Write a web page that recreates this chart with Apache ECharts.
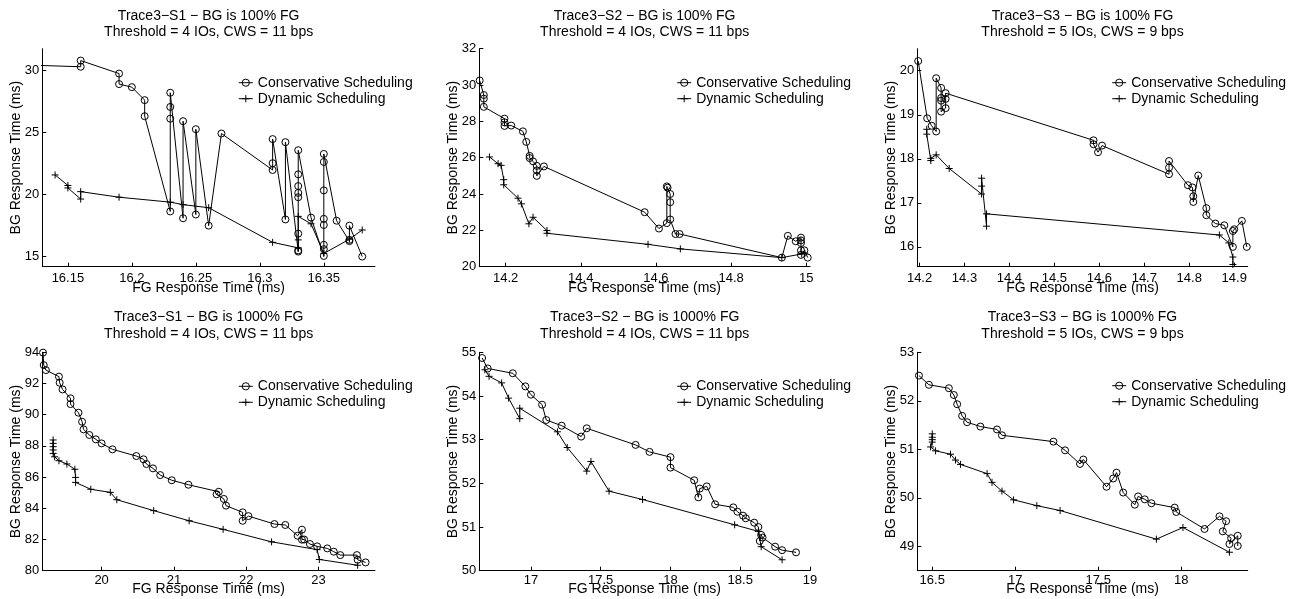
<!DOCTYPE html>
<html><head><meta charset="utf-8">
<script src="https://cdn.jsdelivr.net/npm/echarts@6/dist/echarts.min.js"></script>
<style>html,body{margin:0;padding:0;background:#fff}#c{width:1292px;height:599px}</style>
</head><body><div id="c"></div>
<script>
// ---------------- DATA ----------------
const seriesNames = ['Conservative Scheduling', 'Dynamic Scheduling'];
const titles = [
  'Trace3\u2212S1 \u2212 BG is 100% FG\nThreshold = 4 IOs, CWS = 11 bps',
  'Trace3\u2212S2 \u2212 BG is 100% FG\nThreshold = 4 IOs, CWS = 11 bps',
  'Trace3\u2212S3 \u2212 BG is 100% FG\nThreshold = 5 IOs, CWS = 9 bps',
  'Trace3\u2212S1 \u2212 BG is 1000% FG\nThreshold = 4 IOs, CWS = 11 bps',
  'Trace3\u2212S2 \u2212 BG is 1000% FG\nThreshold = 4 IOs, CWS = 11 bps',
  'Trace3\u2212S3 \u2212 BG is 1000% FG\nThreshold = 5 IOs, CWS = 9 bps'
];
const xName = 'FG Response Time (ms)';
const yName = 'BG Response Time (ms)';

// axis ranges [min, max]
const xRange1 = [16.13, 16.39], yRange1 = [14.13, 31.76];
const xRange2 = [14.13, 15.01], yRange2 = [20, 32];
const xRange3 = [14.195, 14.93], yRange3 = [15.55, 20.5];
const xRange4 = [19.18, 23.78], yRange4 = [80, 94];
const xRange5 = [16.63, 19.0], yRange5 = [50, 55];
const xRange6 = [16.41, 18.40], yRange6 = [48.5, 53];

// tick values
const xTicks1 = [16.15, 16.2, 16.25, 16.3, 16.35], yTicks1 = [15, 20, 25, 30];
const xTicks2 = [14.2, 14.4, 14.6, 14.8, 15], yTicks2 = [20, 22, 24, 26, 28, 30, 32];
const xTicks3 = [14.2, 14.3, 14.4, 14.5, 14.6, 14.7, 14.8, 14.9], yTicks3 = [16, 17, 18, 19, 20];
const xTicks4 = [20, 21, 22, 23], yTicks4 = [80, 82, 84, 86, 88, 90, 92, 94];
const xTicks5 = [17, 17.5, 18, 18.5, 19], yTicks5 = [50, 51, 52, 53, 54, 55];
const xTicks6 = [16.5, 17, 17.5, 18], yTicks6 = [49, 50, 51, 52, 53];

// Panel 1: Trace3-S1, 100%
const cons1 = [[16.10,30.50],[16.16,30.30],[16.16,30.80],[16.19,29.75],[16.19,28.90],[16.20,28.65],[16.21,27.60],[16.21,26.30],[16.23,18.60],[16.23,26.10],[16.23,27.05],[16.23,28.20],[16.24,18.05],[16.24,25.90],[16.25,18.35],[16.25,25.25],[16.26,17.45],[16.27,24.90],[16.31,21.95],[16.31,22.50],[16.31,24.45],[16.32,17.95],[16.32,24.20],[16.33,15.35],[16.33,15.45],[16.33,16.80],[16.33,19.75],[16.33,20.10],[16.33,20.65],[16.33,21.60],[16.33,23.55],[16.34,18.10],[16.35,15.00],[16.35,15.55],[16.35,15.90],[16.35,17.50],[16.35,18.00],[16.35,20.30],[16.35,22.60],[16.35,23.25],[16.36,17.85],[16.37,16.20],[16.37,16.30],[16.37,17.45],[16.38,14.95]];
const dyn1 = [[16.14,21.55],[16.15,20.70],[16.15,20.50],[16.16,19.60],[16.16,20.20],[16.19,19.75],[16.23,19.35],[16.24,19.15],[16.26,18.90],[16.31,16.10],[16.33,15.65],[16.33,16.30],[16.33,18.20],[16.34,17.60],[16.35,15.20],[16.37,16.35],[16.38,17.10]];

// Panel 2: Trace3-S2, 100%
const cons2 = [[14.131,30.25],[14.142,29.45],[14.142,29.25],[14.142,28.80],[14.197,28.15],[14.197,27.95],[14.197,27.75],[14.215,27.77],[14.246,27.45],[14.255,26.87],[14.264,26.10],[14.264,25.98],[14.273,25.80],[14.283,25.55],[14.283,25.30],[14.283,25.00],[14.302,25.52],[14.570,23.00],[14.608,22.10],[14.629,22.40],[14.629,24.42],[14.631,24.35],[14.638,24.00],[14.638,23.55],[14.638,22.60],[14.652,21.80],[14.663,21.80],[14.935,20.50],[14.951,21.70],[14.972,21.40],[14.986,21.60],[14.986,21.45],[14.986,21.30],[14.986,20.90],[14.986,20.65],[14.995,20.90],[15.004,20.50]];
const dyn2 = [[14.157,26.04],[14.180,25.67],[14.188,25.58],[14.195,24.79],[14.195,24.51],[14.233,23.77],[14.242,23.46],[14.262,22.36],[14.273,22.72],[14.310,21.99],[14.310,21.84],[14.579,21.23],[14.665,20.98],[14.935,20.50],[14.988,20.70],[14.996,20.74]];

// Panel 3: Trace3-S3, 100%
const cons3 = [[14.197,20.22],[14.217,18.92],[14.227,18.75],[14.237,18.62],[14.237,19.83],[14.248,19.61],[14.248,19.38],[14.248,19.32],[14.248,19.07],[14.258,19.15],[14.258,19.36],[14.258,19.49],[14.587,18.42],[14.587,18.33],[14.597,18.15],[14.606,18.30],[14.755,17.65],[14.755,17.80],[14.755,17.95],[14.797,17.40],[14.807,17.35],[14.809,17.15],[14.809,17.02],[14.820,17.62],[14.838,16.88],[14.838,16.72],[14.858,16.53],[14.878,16.49],[14.897,16.00],[14.897,16.36],[14.900,16.40],[14.917,16.59],[14.928,16.00]];
const dyn3 = [[14.216,18.67],[14.216,18.56],[14.225,17.96],[14.225,18.01],[14.237,18.09],[14.266,17.78],[14.338,17.20],[14.338,17.38],[14.338,17.56],[14.349,16.47],[14.349,16.75],[14.867,16.27],[14.888,16.09],[14.897,15.77],[14.897,15.60]];

// Panel 4: Trace3-S1, 1000%
const cons4 = [[19.19,93.98],[19.20,93.18],[19.23,92.86],[19.41,92.44],[19.42,92.05],[19.46,91.62],[19.57,91.05],[19.57,90.68],[19.68,90.13],[19.73,89.55],[19.75,89.06],[19.83,88.70],[19.92,88.42],[20.00,88.16],[20.15,87.78],[20.48,87.35],[20.58,87.14],[20.62,86.84],[20.71,86.56],[20.81,86.13],[20.97,85.80],[21.20,85.51],[21.62,85.06],[21.59,84.90],[21.69,84.60],[21.72,84.17],[21.95,83.74],[21.95,83.20],[22.03,83.50],[22.39,82.99],[22.54,82.93],[22.71,82.24],[22.77,82.63],[22.77,81.99],[22.80,82.00],[22.88,81.71],[22.98,81.56],[23.12,81.43],[23.21,81.22],[23.30,81.00],[23.53,81.00],[23.54,80.70],[23.65,80.53]];
const dyn4 = [[19.33,88.38],[19.33,88.16],[19.33,87.95],[19.33,87.74],[19.33,87.52],[19.35,87.30],[19.41,87.05],[19.52,86.84],[19.63,86.50],[19.64,85.98],[19.64,85.66],[19.85,85.22],[20.12,85.02],[20.21,84.55],[20.72,83.85],[21.21,83.20],[21.68,82.65],[22.35,81.85],[22.98,81.35],[23.01,80.72],[23.54,80.35]];

// Panel 5: Trace3-S2, 1000%
const cons5 = [[16.65,54.87],[16.69,54.63],[16.87,54.52],[16.96,54.22],[17.00,54.03],[17.08,53.80],[17.11,53.45],[17.22,53.32],[17.36,53.07],[17.40,53.26],[17.75,52.88],[17.85,52.72],[18.00,52.60],[18.00,52.36],[18.17,52.07],[18.20,51.68],[18.21,51.88],[18.26,51.93],[18.32,51.52],[18.45,51.45],[18.48,51.35],[18.52,51.26],[18.54,51.20],[18.60,51.10],[18.63,51.00],[18.64,50.68],[18.65,50.82],[18.66,50.76],[18.75,50.55],[18.80,50.47],[18.90,50.42]];
const dyn5 = [[16.67,54.60],[16.70,54.45],[16.79,54.30],[16.84,53.95],[16.92,53.48],[16.92,53.72],[17.19,53.18],[17.26,52.82],[17.40,52.28],[17.43,52.50],[17.56,51.82],[17.80,51.63],[18.46,51.05],[18.63,50.90],[18.65,50.55],[18.80,50.25]];

// Panel 6: Trace3-S3, 1000%
const cons6 = [[16.42,52.52],[16.48,52.33],[16.60,52.26],[16.63,52.12],[16.65,51.93],[16.68,51.69],[16.71,51.56],[16.79,51.47],[16.89,51.41],[16.92,51.29],[17.23,51.16],[17.30,50.98],[17.39,50.70],[17.41,50.79],[17.55,50.23],[17.59,50.40],[17.61,50.52],[17.65,50.11],[17.72,49.86],[17.74,50.03],[17.78,49.97],[17.82,49.89],[17.96,49.80],[17.97,49.71],[18.14,49.36],[18.23,49.62],[18.27,49.52],[18.25,49.31],[18.30,49.17],[18.29,49.05],[18.34,49.22],[18.34,49.01]];
const dyn6 = [[16.50,51.32],[16.50,51.25],[16.50,51.20],[16.50,51.15],[16.49,51.05],[16.52,50.97],[16.61,50.90],[16.64,50.78],[16.67,50.69],[16.83,50.50],[16.86,50.32],[16.92,50.14],[16.99,49.96],[17.13,49.84],[17.27,49.74],[17.85,49.15],[18.01,49.39],[18.29,48.88]];

// ---------------- LAYOUT ----------------
const FONT = "'Liberation Sans', Arial, Helvetica, sans-serif";
const panels = [
  {l:42.3,  t:48.7,  w:332.7, h:218,   xr:xRange1, yr:yRange1, xt:xTicks1, yt:yTicks1, c:cons1, d:dyn1, legL:238.3, legT:74.7, tTop:7.9, xm:5, xg:14},
  {l:479.3, t:48.7,  w:330.7, h:218,   xr:xRange2, yr:yRange2, xt:xTicks2, yt:yTicks2, c:cons2, d:dyn2, legL:676.7, legT:74.7, tTop:7.9, xm:5, xg:14},
  {l:917.3, t:48.7,  w:330.4, h:218,   xr:xRange3, yr:yRange3, xt:xTicks3, yt:yTicks3, c:cons3, d:dyn3, legL:1111.7, legT:74.7, tTop:7.9, xm:5, xg:14},
  {l:42.3,  t:352.3, w:332.7, h:218.4, xr:xRange4, yr:yRange4, xt:xTicks4, yt:yTicks4, c:cons4, d:dyn4, legL:238.3, legT:378.3, tTop:309.2, xm:3, xg:11},
  {l:479.3, t:352.3, w:330.7, h:218.4, xr:xRange5, yr:yRange5, xt:xTicks5, yt:yTicks5, c:cons5, d:dyn5, legL:676.7, legT:378.3, tTop:309.2, xm:3, xg:11},
  {l:917.3, t:352.3, w:330.4, h:218.4, xr:xRange6, yr:yRange6, xt:xTicks6, yt:yTicks6, c:cons6, d:dyn6, legL:1111.7, legT:377.7, tTop:309.2, xm:3, xg:11}
];

const fmt = v => String(Math.round(v * 1000) / 1000);
const makeAxis = (ticks, margin) => ({
  type: 'value',
  axisLine: {show: true, onZero: false, lineStyle: {color: '#000', width: 1}},
  axisTick: {show: true, inside: true, length: 4, customValues: ticks, lineStyle: {color: '#000', width: 1}},
  axisLabel: {customValues: ticks, formatter: fmt, fontFamily: FONT, fontSize: 13, color: '#000', margin: margin},
  splitLine: {show: false},
  nameLocation: 'middle',
  nameMoveOverlap: false,
  nameTextStyle: {fontFamily: FONT, fontSize: 14, color: '#000'}
});

const PLUS = 'path://M0,5L10,5M5,0L5,10';

const option = {
  animation: false,
  backgroundColor: '#fff',
  title: panels.map((p, i) => ({
    text: titles[i], left: p.l + p.w / 2, top: p.tTop, textAlign: 'center', padding: 0,
    textStyle: {fontFamily: FONT, fontSize: 14, fontWeight: 'normal', lineHeight: 16.4, color: '#000'}
  })),
  legend: panels.map(p => ({
    data: seriesNames, left: p.legL, top: p.legT, orient: 'vertical', padding: 0, itemGap: 0,
    itemWidth: 14, itemHeight: 9, selectedMode: false,
    lineStyle: {width: 1},
    itemStyle: {borderWidth: 1},
    textStyle: {fontFamily: FONT, fontSize: 14, lineHeight: 16, color: '#000'}
  })),
  grid: panels.map(p => ({left: p.l, top: p.t, width: p.w, height: p.h, containLabel: false, outerBoundsMode: 'none'})),
  xAxis: panels.map((p, i) => Object.assign(makeAxis(p.xt, p.xm), {
    gridIndex: i, min: p.xr[0], max: p.xr[1], name: xName, nameGap: p.xg
  })),
  yAxis: panels.map((p, i) => Object.assign(makeAxis(p.yt, 3), {
    gridIndex: i, min: p.yr[0], max: p.yr[1], name: yName, nameGap: 19
  })),
  series: []
};

panels.forEach((p, i) => {
  option.series.push({
    name: seriesNames[0], type: 'line', xAxisIndex: i, yAxisIndex: i, data: p.c,
    symbol: 'circle', symbolSize: 7, silent: true, clip: true,
    itemStyle: {color: 'rgba(0,0,0,0)', borderColor: '#000', borderWidth: 1},
    lineStyle: {color: '#000', width: 1},
    emphasis: {disabled: true}
  });
  option.series.push({
    name: seriesNames[1], type: 'line', xAxisIndex: i, yAxisIndex: i, data: p.d,
    symbol: PLUS, symbolSize: 7, silent: true, clip: true,
    itemStyle: {color: 'rgba(0,0,0,0)', borderColor: '#000', borderWidth: 1},
    lineStyle: {color: '#000', width: 1},
    emphasis: {disabled: true}
  });
});

const chart = echarts.init(document.getElementById('c'), null, {renderer: 'canvas'});
chart.setOption(option);
</script>
</body></html>
